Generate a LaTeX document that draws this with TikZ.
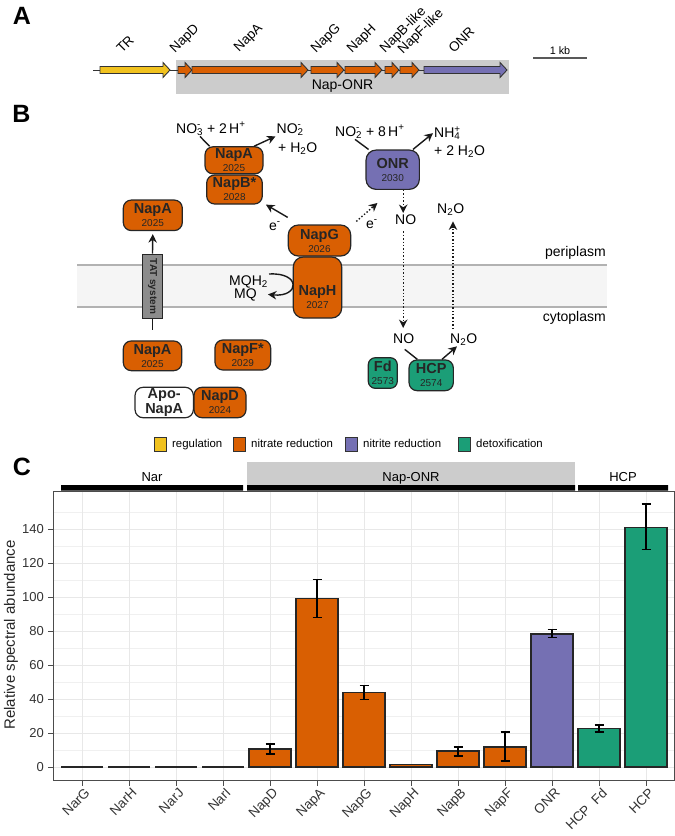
\documentclass[tikz,border=0pt]{standalone}
\usepackage{amsmath}
\usepackage{fontspec}
\setmainfont{Liberation Sans}
\usetikzlibrary{arrows.meta}

\definecolor{regcol}{HTML}{F1C21F}
\definecolor{nrcol}{HTML}{D95F02}
\definecolor{nircol}{HTML}{7570B3}
\definecolor{dtxcol}{HTML}{1B9E77}

\newcommand{\pbold}{\bfseries\fontsize{14.5}{15}\selectfont}
\newcommand{\subsup}[2]{\rlap{\textsuperscript{#2}}\textsubscript{#1}}

\begin{document}
\begin{tikzpicture}[x=1pt,y=-1pt,
  prot/.style={draw=black!85, line width=1.2pt, rounded corners=8pt, align=center,
    inner sep=0pt, text=black!85, font=\fontsize{10}{13}\selectfont},
  chem/.style={anchor=base west, inner sep=1pt, font=\fontsize{14}{16}\selectfont},
  rxarr/.style={-{Stealth[length=8.5pt,width=8.5pt]}, line width=1.4pt, black!90},
  dotarr/.style={rxarr, dotted},
  panel/.style={font=\bfseries\fontsize{25}{25}\selectfont, inner sep=0pt},
  genelbl/.style={rotate=45, anchor=base west, inner sep=0pt, font=\fontsize{13.5}{13.5}\selectfont},
  ticklbl/.style={inner sep=0pt, text=black!80, font=\fontsize{13}{13}\selectfont}]

\useasboundingbox (0,0) rectangle (675,836);

\node[panel] (pA) at (22,16) {A};
\fill[black!20] (176,60) rectangle (509,94);
\node[font=\fontsize{14}{14}\selectfont, anchor=base] (naponr) at (342.5,89.5) {Nap-ONR};
\draw[line width=1pt, black!80] (93,70) -- (424,70);
\foreach \a/\b/\c in {100/170/regcol, 178/192/nrcol, 192/308/nrcol, 311/344/nrcol, 345/382/nrcol, 385/399/nrcol, 400/419/nrcol, 424/507/nircol}
  \filldraw[fill=\c, draw=black!80, line width=0.9pt] (\a,66.5) -- (\b-7,66.5) -- (\b-7,62.5) -- (\b,70) -- (\b-7,77.5) -- (\b-7,73.5) -- (\a,73.5) -- cycle;
\foreach \x/\y/\t [count=\k] in {122/54/TR, 175/54/NapD, 239/53/NapA, 316/54/NapG, 352/54/NapH, 385/54/NapB-like, 403/55/NapF-like, 454/54/ONR}
  \node[genelbl] (gl\k) at (\x,\y) {\t};
\draw[line width=1.5pt, black!65] (533,58) -- (587,58);
\node[font=\fontsize{10.8}{11}\selectfont, anchor=base] (kb) at (560,54) {1 kb};

\node[panel] (pB) at (21.5,114) {B};
\fill[black!4] (77,265) rectangle (607,307);
\draw[black!30, line width=2.7pt] (77,265) -- (607,265) (77,307) -- (607,307);
\node[chem, anchor=south east] (peri) at (607,261) {periplasm};
\node[chem, anchor=north east] (cyto) at (607,310) {cytoplasm};

\node[prot, fill=black!45, rounded corners=0pt, minimum width=19.5pt, minimum height=64pt] (tat) at (152.5,286.3)
  {\rotatebox{-90}{\bfseries\fontsize{10}{10}\selectfont TAT system}};
\node[prot, fill=nrcol, minimum width=59pt, minimum height=30.5pt] (napaL) at (152.8,215.3) {{\pbold NapA}\\2025};
\node[prot, fill=nrcol, minimum width=58.4pt, minimum height=29.7pt] (napaC) at (152.5,355.8) {{\pbold NapA}\\2025};
\node[prot, fill=nrcol, minimum width=55.7pt, minimum height=30pt] (napf) at (242.8,355) {{\pbold NapF*}\\2029};
\node[prot, fill=white, minimum width=58.3pt, minimum height=30.4pt, font=\pbold] (apo) at (164.2,402.5) {Apo-\\NapA};
\node[prot, fill=nrcol, minimum width=52pt, minimum height=30.4pt] (napd) at (220,402.5) {{\pbold NapD}\\2024};
\node[prot, fill=nrcol, minimum width=55.6pt, minimum height=29pt] (napb) at (234.5,189.5) {{\pbold NapB*}\\2028};
\node[prot, fill=nrcol, minimum width=58pt, minimum height=27pt] (napaT) at (234,160.3) {{\pbold NapA}\\2025};
\node[prot, fill=nrcol, minimum width=48.4pt, minimum height=61pt, rounded corners=10pt] (naph) at (317.5,287.5) {};
\node[prot, draw=none] (naphlbl) at (317.5,297) {{\pbold NapH}\\2027};
\node[prot, fill=nrcol, minimum width=62.4pt, minimum height=31pt, rounded corners=10pt] (napg) at (319.5,240.5) {{\pbold NapG}\\2026};
\node[prot, fill=nircol, minimum width=53.3pt, minimum height=39.3pt, rounded corners=10pt] (onr) at (392.7,169.7) {{\pbold ONR}\\2030};
\node[prot, fill=dtxcol, minimum width=29pt, minimum height=30.6pt, rounded corners=7pt] (fd) at (382.8,373) {{\pbold Fd}\\2573};
\node[prot, fill=dtxcol, minimum width=44.3pt, minimum height=30.7pt] (hcp) at (431.2,375.3) {{\pbold HCP}\\2574};

\node[chem] (no3) at (175,133) {NO\subsup{3}{-} + 2\,H\textsuperscript{+}};
\node[chem] (no2a) at (275.5,133) {NO\subsup{2}{-}};
\node[chem] (h2oa) at (277,152) {+ H\textsubscript{2}O};
\node[chem] (no2r) at (334,136) {NO\subsup{2}{-} + 8\,H\textsuperscript{+}};
\node[chem] (nh4) at (433,137.5) {NH\subsup{4}{+}};
\node[chem] (h2or) at (433,155.5) {+ 2 H\textsubscript{2}O};
\node[chem] (eL) at (268,230) {e\textsuperscript{-}};
\node[chem] (eR) at (365,228) {e\textsuperscript{-}};
\node[chem] (noT) at (394,224) {NO};
\node[chem] (n2oT) at (436,213) {N\textsubscript{2}O};
\node[chem] (noC) at (392,343) {NO};
\node[chem] (n2oC) at (449,343) {N\textsubscript{2}O};
\node[chem] (mqh2) at (228,285) {MQH\textsubscript{2}};
\node[chem] (mq) at (233,298) {MQ};

\draw[line width=1.4pt, black!90] ([xshift=25pt]no3.south west) -- (napaT.150);
\draw[rxarr] (napaT.35) -- (no2a.south west);
\draw[line width=1.4pt, black!90] ([xshift=21pt]no2r.south west) -- (onr.140);
\draw[rxarr] (onr.45) -- (nh4.west);
\draw[rxarr] ([yshift=7pt]napg.north west) -- ([xshift=3pt]napb.south east);
\draw[dotarr] ([shift={(5pt,3pt)}]napg.north east) -- ([shift={(12pt,-13pt)}]onr.south west);
\draw[dotarr] ([xshift=10.5pt]onr.south) -- ([xshift=10.5pt]onr.south |- noT.north);
\draw[dotarr, shorten <=6pt, shorten >=4pt] ([xshift=10.5pt]onr.south |- noT.south) -- ([xshift=10.5pt]onr.south |- noC.north);
\draw[dotarr, shorten <=3pt, shorten >=5pt] ([xshift=4pt]n2oC.north west) -- ([xshift=4pt]n2oC.north west |- n2oT.south);
\draw[line width=1.4pt, black!90] ([shift={(1pt,-5pt)}]noC.south) -- (hcp.131);
\draw[rxarr] (hcp.56) -- ([xshift=8pt]n2oC.south west);
\draw[rxarr, shorten >=3pt] (tat.north) -- (napaL.south);
\draw[line width=1.4pt, black!90] (tat.south) -- ([yshift=10pt]napaC.north);
\draw[rxarr] (mqh2.north east) .. controls +(32,-2) and +(32,3) .. ([xshift=10pt]mq.east);

\foreach \x/\c/\t [count=\k] in {154/regcol/regulation, 233/nrcol/nitrate reduction, 345/nircol/nitrite reduction, 458/dtxcol/detoxification} {
  \filldraw[fill=\c, draw=black!80, line width=1pt] (\x,437) rectangle (\x+12,451);
  \node[anchor=base west, inner sep=0pt, font=\fontsize{11.4}{12}\selectfont] (leg\k) at (\x+18,447.5) {\t};
}

\node[panel] (pC) at (22,467) {C};
\fill[black!20] (247,462) rectangle (575,485);
\node[anchor=base, font=\fontsize{13}{13}\selectfont] (snar) at (152,481.5) {Nar};
\node[anchor=base, font=\fontsize{13}{13}\selectfont] (snap) at (411,481.5) {Nap-ONR};
\node[anchor=base, font=\fontsize{13}{13}\selectfont] (shcp) at (623,481.5) {HCP};
\fill (61,485) rectangle (243,490.5) (247,485) rectangle (575,490.5) (578,485) rectangle (668,490.5);

\foreach \v in {10,30,...,150}
  \draw[black!6, line width=0.6pt] (53,767-1.7*\v) -- (674,767-1.7*\v);
\foreach \v in {0,20,...,140}
  \draw[black!9, line width=1pt] (53,767-1.7*\v) -- (674,767-1.7*\v);
\foreach \i in {0,...,12}
  \draw[black!9, line width=1pt] (82+47*\i,491) -- (82+47*\i,780);

\foreach \i in {0,...,3}
  \draw[line width=1.2pt, black!85] (82+47*\i-21,767) -- (82+47*\i+21,767);
\foreach \i/\v/\c in {4/10.6/nrcol, 5/99.3/nrcol, 6/44/nrcol, 7/1.5/nrcol, 8/9.4/nrcol, 9/11.8/nrcol, 10/78.2/nircol, 11/22.7/dtxcol, 12/141/dtxcol}
  \filldraw[fill=\c, draw=black!85, line width=1.2pt] (82+47*\i-21,767) rectangle (82+47*\i+21,767-1.7*\v);
\foreach \i/\lo/\hi in {4/7.6/13.5, 5/87.8/110.4, 6/39.5/48, 8/6.5/11.8, 9/3.5/20.6, 10/76/80.8, 11/20.6/24.7, 12/128/154.7}
  \draw[line width=1.2pt] (82+47*\i,767-1.7*\lo) -- (82+47*\i,767-1.7*\hi)
    (82+47*\i-4.5,767-1.7*\lo) -- (82+47*\i+4.5,767-1.7*\lo)
    (82+47*\i-4.5,767-1.7*\hi) -- (82+47*\i+4.5,767-1.7*\hi);

\draw[black!70, line width=0.8pt] (53,491) rectangle (674,780);
\foreach \v in {0,20,...,140} {
  \draw[black!70, line width=0.8pt] (48,767-1.7*\v) -- (53,767-1.7*\v);
  \node[ticklbl, anchor=east] (yt\v) at (44,767-1.7*\v) {\v};
}
\foreach \i/\t in {0/NarG, 1/NarH, 2/NarJ, 3/NarI, 4/NapD, 5/NapA, 6/NapG, 7/NapH, 8/NapB, 9/NapF, 10/ONR, 11/HCP\ \ Fd, 12/HCP} {
  \draw[black!70, line width=0.8pt] (82+47*\i,780) -- (82+47*\i,786);
  \node[ticklbl, font=\fontsize{13.5}{13.5}\selectfont, rotate=45, anchor=north east] (xt\i) at (82+47*\i+2,787) {\t};
}
\node[rotate=90, text=black!85, font=\fontsize{15}{15}\selectfont] (ytitle) at (11,635) {Relative spectral abundance};
\end{tikzpicture}
\end{document}
